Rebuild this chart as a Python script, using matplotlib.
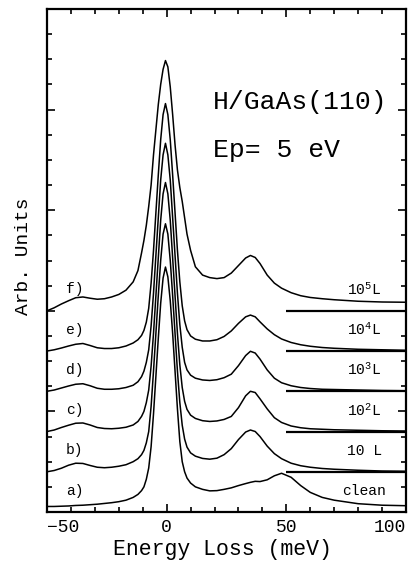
import numpy as np
import matplotlib
matplotlib.use("Agg")
import matplotlib.pyplot as plt
from matplotlib.ticker import MultipleLocator

plt.rcParams['font.family'] = ['Liberation Mono', 'DejaVu Sans']
plt.rcParams['mathtext.fontset'] = 'custom'
plt.rcParams['mathtext.rm'] = 'Liberation Mono'
plt.rcParams['mathtext.it'] = 'Liberation Mono'
plt.rcParams['mathtext.bf'] = 'Liberation Mono'

# energy loss axis (meV), shared by all spectra
energy = [-50, -47, -44, -41, -38, -35, -32, -29, -26, -23, -20, -17, -14, -12,
          -10.5, -9.5, -8.5, -7.5, -6.5, -5.5, -4.5, -3.5, -2.5, -1.5, -0.5,
          0.5, 1.5, 2.5, 3.5, 4.5, 5.5, 6.5, 7.5, 8.5,
          10, 12, 15, 18, 21, 24, 27, 30, 33, 35, 37, 39, 42, 45, 48, 52, 56,
          60, 65, 70, 80, 90, 100]

# intensities above each baseline (arb. units)
spec_a = [0.22, 0.22, 0.23, 0.24, 0.26, 0.27, 0.29, 0.31, 0.34, 0.37, 0.41, 0.47, 0.58, 0.70,
          0.85, 1.0, 1.3, 1.75, 2.6, 3.9, 5.4, 6.9, 8.3, 9.3, 9.74,
          9.35, 8.4, 7.1, 5.6, 4.1, 2.8, 2.0, 1.6, 1.35,
          1.15, 1.0, 0.9, 0.84, 0.85, 0.9, 0.96, 1.05, 1.13, 1.18, 1.22, 1.21, 1.28, 1.44, 1.54, 1.38, 1.05,
          0.78, 0.58, 0.47, 0.33, 0.27, 0.25]
spec_b = [0.0, 0.05, 0.14, 0.26, 0.34, 0.33, 0.25, 0.18, 0.16, 0.18, 0.22, 0.28, 0.40, 0.52,
          0.68, 0.85, 1.15, 1.6, 2.6, 4.0, 5.5, 7.0, 8.4, 9.45, 9.86,
          9.45, 8.4, 7.0, 5.5, 4.0, 2.75, 1.85, 1.3, 0.98,
          0.75, 0.62, 0.53, 0.5, 0.54, 0.68, 0.92, 1.28, 1.58, 1.66, 1.6, 1.4, 1.02, 0.72, 0.52, 0.34, 0.24,
          0.18, 0.13, 0.10, 0.06, 0.03, 0.02]
spec_c = [0.0, 0.06, 0.16, 0.25, 0.33, 0.34, 0.26, 0.16, 0.12, 0.11, 0.13, 0.17, 0.26, 0.40,
          0.60, 0.80, 1.15, 1.65, 2.6, 3.9, 5.4, 6.9, 8.4, 9.45, 9.9,
          9.45, 8.4, 6.9, 5.4, 3.9, 2.65, 1.75, 1.2, 0.88,
          0.65, 0.52, 0.43, 0.4, 0.42, 0.48, 0.6, 0.95, 1.42, 1.6, 1.55, 1.3, 0.9, 0.55, 0.36, 0.22, 0.15,
          0.11, 0.09, 0.07, 0.05, 0.03, 0.02]
spec_d = [0.0, 0.05, 0.13, 0.21, 0.28, 0.30, 0.22, 0.12, 0.08, 0.08, 0.10, 0.15, 0.24, 0.38,
          0.58, 0.80, 1.15, 1.65, 2.6, 3.9, 5.4, 6.9, 8.4, 9.4, 9.86,
          9.4, 8.4, 6.9, 5.4, 3.9, 2.65, 1.75, 1.15, 0.85,
          0.64, 0.52, 0.45, 0.43, 0.46, 0.54, 0.68, 1.02, 1.42, 1.59, 1.52, 1.28, 0.85, 0.52, 0.34, 0.22, 0.15,
          0.11, 0.08, 0.07, 0.05, 0.03, 0.02]
spec_e = [0.0, 0.05, 0.12, 0.20, 0.27, 0.30, 0.22, 0.13, 0.10, 0.10, 0.13, 0.20, 0.32, 0.45,
          0.62, 0.82, 1.15, 1.7, 2.7, 4.0, 5.5, 7.0, 8.4, 9.4, 9.84,
          9.4, 8.4, 7.0, 5.5, 4.0, 2.75, 1.8, 1.2, 0.85,
          0.6, 0.47, 0.4, 0.4, 0.45, 0.58, 0.8, 1.1, 1.36, 1.43, 1.36, 1.16, 0.88, 0.65, 0.48, 0.34, 0.25,
          0.19, 0.14, 0.11, 0.07, 0.05, 0.03]
spec_f = [0.0, 0.12, 0.27, 0.40, 0.52, 0.55, 0.50, 0.46, 0.48, 0.55, 0.65, 0.82, 1.15, 1.6,
          2.3, 2.8, 3.4, 4.15, 5.0, 6.2, 7.2, 8.2, 9.0, 9.6, 9.95,
          9.7, 8.9, 7.8, 6.6, 5.6, 4.9, 4.35, 3.7, 3.05,
          2.4, 1.75, 1.42, 1.32, 1.28, 1.32, 1.5, 1.8, 2.1, 2.2, 2.12, 1.88, 1.42, 1.1, 0.9, 0.72, 0.6,
          0.53, 0.48, 0.44, 0.38, 0.35, 0.34]

spectra = [spec_a, spec_b, spec_c, spec_d, spec_e, spec_f]
offsets = [0.0, 1.6, 3.2, 4.8, 6.4, 8.0]
left_labels = ['a)', 'b)', 'c)', 'd)', 'e)', 'f)']
right_labels = ['clean', '10 L', '10$^{2}$L', '10$^{3}$L', '10$^{4}$L', '10$^{5}$L']

fig = plt.figure(figsize=(4.10, 5.62), dpi=100)
ax = fig.add_axes([47 / 410, 50 / 562, 359 / 410, 503 / 562])

for spec, off in zip(spectra, offsets):
    ax.plot(energy, np.array(spec) + off, color='black', lw=1.1)

# baseline markers at the right
ax.hlines(offsets[1:], 50, 100, color='black', lw=1.6)

for lab, off in zip(left_labels, offsets):
    ax.text(-38.5, off + 0.85, lab, ha='center', va='center', fontsize=10.5)
for lab, off in zip(right_labels, offsets):
    ax.text(82.5, off + 0.84, lab, ha='center', va='center', fontsize=10.5)

ax.text(19.4, 16.3, 'H/GaAs(110)', ha='left', va='center', fontsize=19)
ax.text(19.4, 14.4, 'Ep= 5 eV', ha='left', va='center', fontsize=19)

ax.set_xlim(-50, 100)
ax.set_ylim(0, 20)
ax.set_xticks([-50, 0, 50, 100], labels=['\u221250', '0', '50', '100'])
ax.xaxis.set_minor_locator(MultipleLocator(10))
ax.yaxis.set_major_locator(MultipleLocator(4))
ax.yaxis.set_minor_locator(MultipleLocator(1))
ax.set_yticklabels([])
ax.tick_params(which='both', direction='in', top=True, right=True, width=1.2)
ax.tick_params(which='major', length=6)
ax.tick_params(which='minor', length=3.5)
ax.tick_params(axis='x', labelsize=13, pad=5)
xl = ax.get_xticklabels()
xl[0].set_ha('left')
xl[-1].set_ha('right')
for s in ax.spines.values():
    s.set_linewidth(1.6)

fig.text(222 / 410, 1 - 549 / 562, 'Energy Loss (meV)', ha='center', va='center', fontsize=15.5)
fig.text(24 / 410, 1 - 256 / 562, 'Arb. Units', ha='center', va='center', rotation=90, fontsize=14)

fig.savefig('out.png', dpi=100)
